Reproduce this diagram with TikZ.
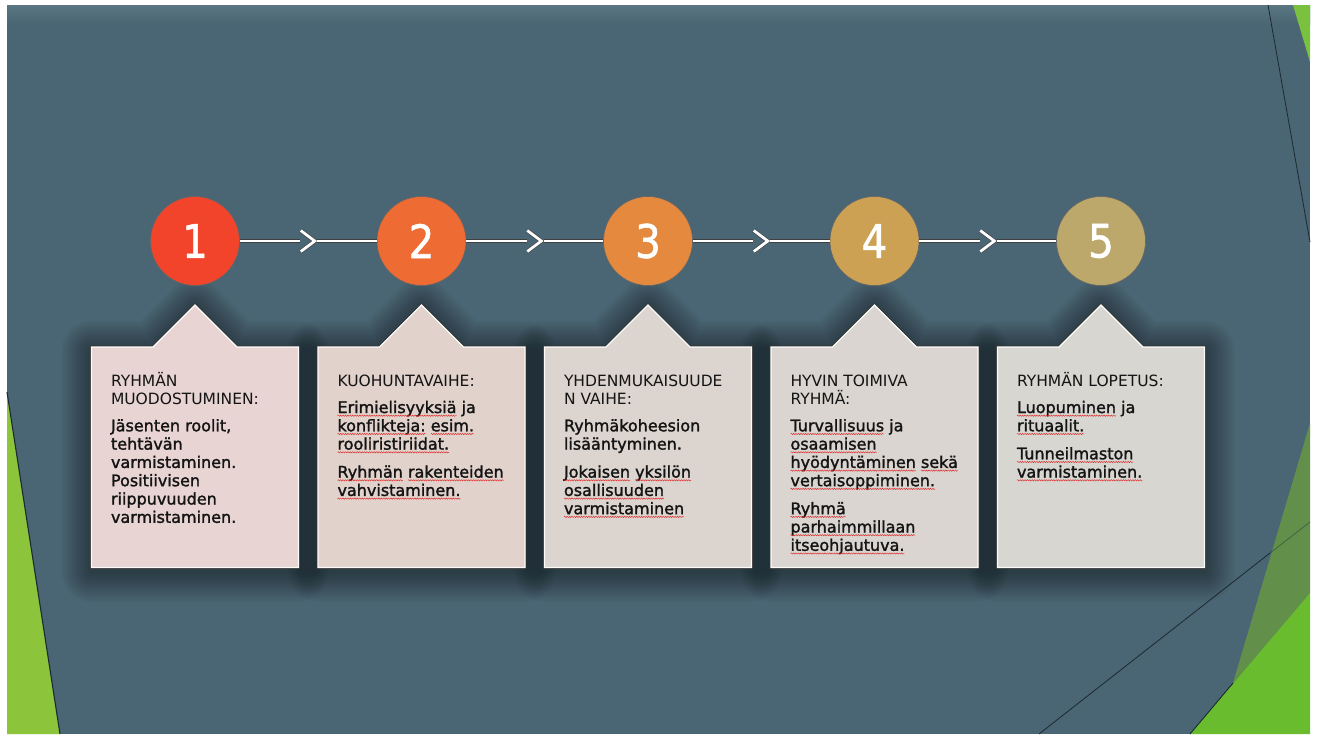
\documentclass[tikz,border=0pt]{standalone}
\usepackage{fontspec}
\setmainfont{DejaVu Sans}
\newfontfamily\headfont{DejaVu Sans}
\newfontfamily\bodyfont{DejaVu Sans}[FakeBold=1.6]
\newfontfamily\numfont{DejaVu Sans}[FakeStretch=0.88,FakeBold=1.2]
\usetikzlibrary{calc,decorations.pathmorphing}

\definecolor{slate}{HTML}{4A6573}
\definecolor{slatetop}{HTML}{5A7682}
\definecolor{edgedark}{HTML}{1C2A30}
\definecolor{leafleft}{HTML}{8CC43C}
\definecolor{leaftop}{HTML}{79C13F}
\definecolor{leafolive}{HTML}{62904A}
\definecolor{leafbright}{HTML}{69BC2E}
\definecolor{circA}{HTML}{F2442A}
\definecolor{circB}{HTML}{EE6B33}
\definecolor{circC}{HTML}{E4893E}
\definecolor{circD}{HTML}{CDA154}
\definecolor{circE}{HTML}{BCA86A}
\definecolor{boxA}{HTML}{E7D4D3}
\definecolor{boxB}{HTML}{E1D2CB}
\definecolor{boxC}{HTML}{DCD4CE}
\definecolor{boxD}{HTML}{DAD5D0}
\definecolor{boxE}{HTML}{D7D6D1}
\definecolor{spellred}{HTML}{E02828}

% callout outline: rectangle with a pointer on top, centred at x = #1
\newcommand\calloutpath[1]{(#1-103.5,347) -- (#1-42,347) -- (#1,305) -- (#1+42,347)
  -- (#1+103.5,347) -- (#1+103.5,567.5) -- (#1-103.5,567.5) -- cycle}

% word with a red wavy underline
\newcommand\wv[1]{\tikz[baseline=(w.base)]{\node[inner sep=0pt,outer sep=0pt,anchor=base] (w) at (0,0) {#1};%
  \draw[overlay,spell] ([yshift=-2.7pt]w.base west) -- ([yshift=-2.7pt]w.base east);}}

\tikzset{
  spell/.style={spellred, line width=0.45pt, decorate,
    decoration={snake, amplitude=0.65pt, segment length=2.4pt}},
  stage/.style={circle, minimum size=89pt, inner sep=0pt, draw=black!60, line width=0.6pt,
    text=white, font=\numfont\fontsize{46}{46}\selectfont},
  conn/.style={draw=black!75, line width=0.6pt, double=white, double distance=2.8pt},
  txt/.style={anchor=north west, inner sep=0pt, outer sep=0pt, align=left, text=black!92},
  head/.style={txt, font=\headfont\fontsize{15.5}{18.3}\selectfont},
  body/.style={txt, font=\bodyfont\fontsize{16}{18.3}\selectfont},
}

\begin{document}
\begin{tikzpicture}[x=1pt,y=-1pt]
\useasboundingbox (0,0) rectangle (1319,736);
\fill[white] (0,0) rectangle (1319,736);

% slide background
\fill[slate] (7,5) rectangle (1310,734);
\shade[top color=slatetop, bottom color=slate] (7,5) rectangle (1310,24);

% green corner shapes
\fill[leafleft] (7,392) -- (60,734) -- (7,734) -- cycle;
\draw[edgedark, line width=1.1pt] (7,392) -- (60,734);
\fill[leaftop] (1293,5) -- (1310,5) -- (1310,62) -- cycle;
\draw[edgedark, line width=0.8pt] (1268,5) -- (1310,242);
\fill[leafolive] (1310,423) -- (1233,683) -- (1310,593) -- cycle;
\fill[leafbright] (1190,734) -- (1310,593) -- (1310,734) -- cycle;
\draw[edgedark, line width=0.9pt] (1190,734) -- (1233,683);
\draw[edgedark, line width=0.8pt] (1039,734) -- (1270,553);
\draw[edgedark, opacity=0.45, line width=0.8pt] (1270,553) -- (1310,522);

% soft shadows behind the callouts
\foreach \cx in {195,421.5,648,874.5,1101}{
  \foreach \w in {4,8,...,60}{
    \draw[black, opacity=0.026, line width=\w pt, line join=round, yshift=-4pt] \calloutpath{\cx};
  }
}

% callout boxes
\foreach \cx/\fc in {195/boxA,421.5/boxB,648/boxC,874.5/boxD,1101/boxE}{
  \draw[black!80, line width=2.6pt] \calloutpath{\cx};
  \filldraw[fill=\fc, draw=white!92!\fc, line width=1.3pt] \calloutpath{\cx};
}

% stage circles
\node[stage, fill=circA] (c1) at (195,241) {1};
\node[stage, fill=circB] (c2) at (421.5,241) {2};
\node[stage, fill=circC] (c3) at (648,241) {3};
\node[stage, fill=circD] (c4) at (874.5,241) {4};
\node[stage, fill=circE] (c5) at (1101,241) {5};

% connectors with chevrons
\foreach \i/\j in {1/2,2/3,3/4,4/5}{
  \path (c\i.east) -- (c\j.west) coordinate[pos=0.5] (m\i);
  \coordinate (ml\i) at ($(m\i)+(-8,0)$);
  \coordinate (mr\i) at ($(m\i)+(9,0)$);
  \draw[conn] (c\i.east) -- (ml\i);
  \draw[conn, line join=miter] ($(m\i)+(-7.5,-10.5)$) -- ($(m\i)+(6.5,0)$) -- ($(m\i)+(-7.5,10.5)$);
  \draw[conn] (mr\i) -- (c\j.west);
}

% texts
\node[head] (h1) at (111,370.5) {\rule{0pt}{16pt}RYHMÄN\\MUODOSTUMINEN:};
\node[body] (b1) at (111,415.3) {\rule{0pt}{16pt}Jäsenten roolit,\\tehtävän\\varmistaminen.\\Positiivisen\\riippuvuuden\\varmistaminen.};

\node[head] (h2) at (337.5,370.5) {\rule{0pt}{16pt}KUOHUNTAVAIHE:};
\node[body] (b2) at (337.5,397) {\rule{0pt}{16pt}\wv{Erimielisyyksiä} ja\\\wv{konflikteja:} \wv{esim.}\\\wv{rooliristiriidat.}\\[9.7pt]\wv{Ryhmän} \wv{rakenteiden}\\\wv{vahvistaminen.}};

\node[head] (h3) at (564,370.5) {\rule{0pt}{16pt}YHDENMUKAISUUDE\\N VAIHE:};
\node[body] (b3) at (564,415.3) {\rule{0pt}{16pt}Ryhmäkoheesion\\lisääntyminen.\\[9.7pt]\wv{Jokaisen} \wv{yksilön}\\\wv{osallisuuden}\\\wv{varmistaminen}};

\node[head] (h4) at (790.5,370.5) {\rule{0pt}{16pt}HYVIN TOIMIVA\\RYHMÄ:};
\node[body] (b4) at (790.5,415.3) {\rule{0pt}{16pt}\wv{Turvallisuus} ja\\\wv{osaamisen}\\\wv{hyödyntäminen} \wv{sekä}\\\wv{vertaisoppiminen.}\\[9.7pt]\wv{Ryhmä}\\\wv{parhaimmillaan}\\\wv{itseohjautuva.}};

\node[head] (h5) at (1017,370.5) {\rule{0pt}{16pt}RYHMÄN LOPETUS:};
\node[body] (b5) at (1017,397) {\rule{0pt}{16pt}\wv{Luopuminen} ja\\\wv{rituaalit.}\\[9.7pt]\wv{Tunneilmaston}\\\wv{varmistaminen.}};
\end{tikzpicture}
\end{document}
